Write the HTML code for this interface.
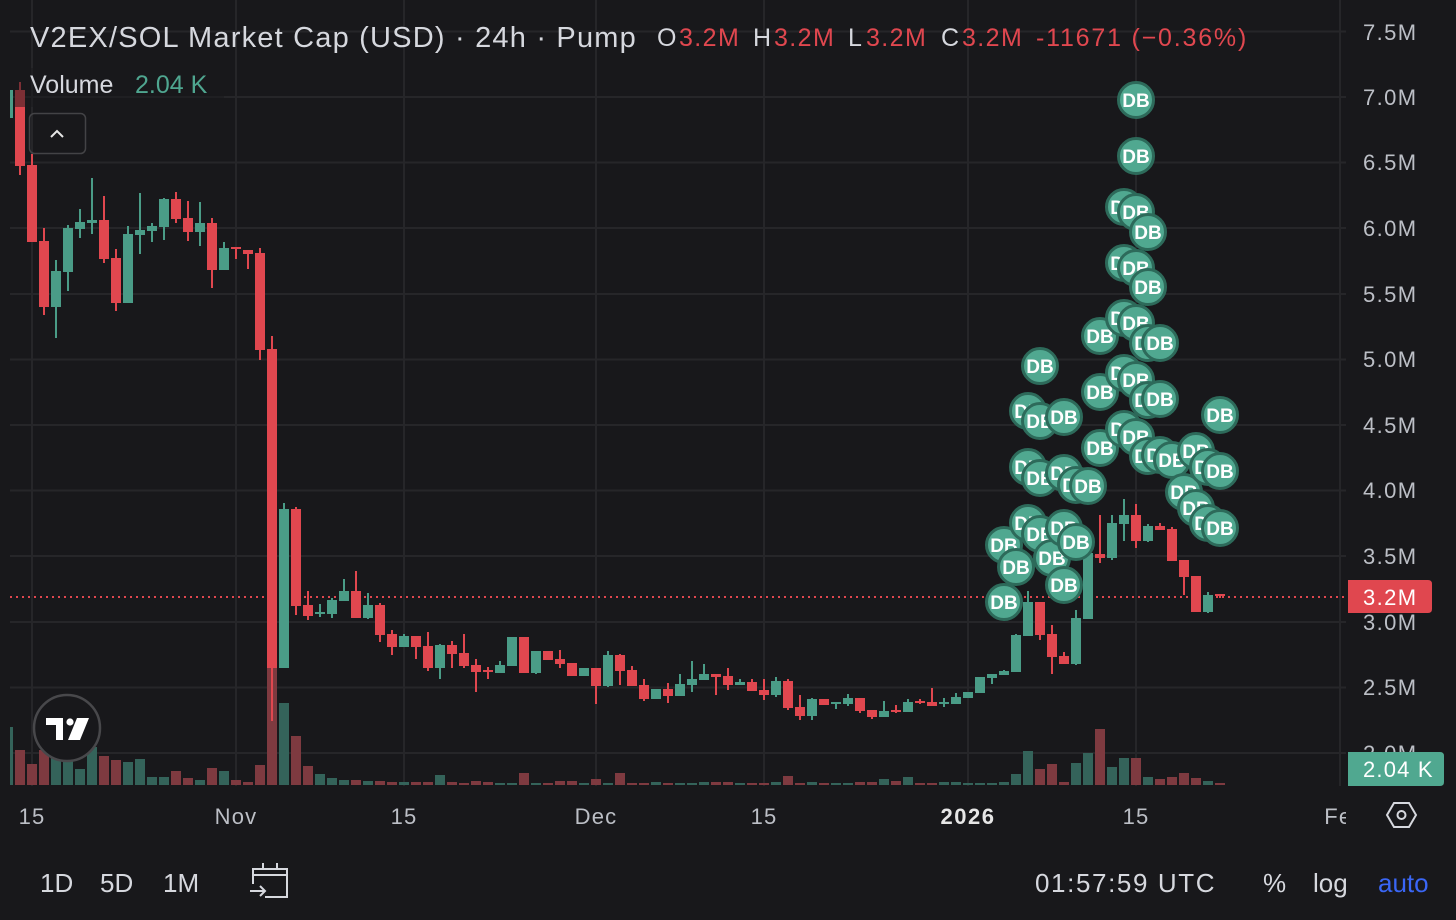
<!DOCTYPE html>
<html><head><meta charset="utf-8"><style>
html,body{margin:0;padding:0;background:#18181b;}
svg{display:block;font-family:"Liberation Sans",sans-serif;}
</style></head><body>
<svg width="1456" height="920" viewBox="0 0 1456 920" xmlns="http://www.w3.org/2000/svg">
<defs>
<clipPath id="pane"><rect x="10" y="0" width="1336" height="786"/></clipPath>
<clipPath id="taxis"><rect x="0" y="786" width="1346" height="60"/></clipPath>
</defs>
<rect width="1456" height="920" fill="#18181b"/>
<!-- grid -->
<g fill="#262629">
<rect x="10" y="30.5" width="1336" height="2"/>
<rect x="10" y="96" width="1336" height="2"/>
<rect x="10" y="161.5" width="1336" height="2"/>
<rect x="10" y="227" width="1336" height="2"/>
<rect x="10" y="293" width="1336" height="2"/>
<rect x="10" y="358.5" width="1336" height="2"/>
<rect x="10" y="424" width="1336" height="2"/>
<rect x="10" y="489.5" width="1336" height="2"/>
<rect x="10" y="555" width="1336" height="2"/>
<rect x="10" y="621" width="1336" height="2"/>
<rect x="10" y="686.5" width="1336" height="2"/>
<rect x="10" y="752" width="1336" height="2"/>
<rect x="31" y="0" width="2" height="786"/>
<rect x="235" y="0" width="2" height="786"/>
<rect x="403" y="0" width="2" height="786"/>
<rect x="595" y="0" width="2" height="786"/>
<rect x="763" y="0" width="2" height="786"/>
<rect x="967" y="0" width="2" height="786"/>
<rect x="1135" y="0" width="2" height="786"/>
<rect x="1339" y="0" width="2" height="786"/>
</g>
<g clip-path="url(#pane)">
<!-- volume green -->
<g fill="#34635a">
<rect x="3" y="727" width="10" height="58"/><rect x="51" y="742" width="10" height="43"/><rect x="63" y="745" width="10" height="40"/><rect x="75" y="769" width="10" height="16"/><rect x="87" y="747" width="10" height="38"/><rect x="123" y="762" width="10" height="23"/><rect x="135" y="759" width="10" height="26"/><rect x="147" y="777" width="10" height="8"/><rect x="159" y="777" width="10" height="8"/><rect x="195" y="780" width="10" height="5"/><rect x="219" y="771" width="10" height="14"/><rect x="279" y="703" width="10" height="82"/><rect x="315" y="774" width="10" height="11"/><rect x="327" y="778" width="10" height="7"/><rect x="339" y="780" width="10" height="5"/><rect x="363" y="781" width="10" height="4"/><rect x="399" y="782" width="10" height="3"/><rect x="435" y="775" width="10" height="10"/><rect x="495" y="783" width="10" height="2"/><rect x="507" y="783" width="10" height="2"/><rect x="531" y="783" width="10" height="2"/><rect x="579" y="783" width="10" height="2"/><rect x="603" y="783" width="10" height="2"/><rect x="651" y="782" width="10" height="3"/><rect x="675" y="783" width="10" height="2"/><rect x="687" y="783" width="10" height="2"/><rect x="699" y="782" width="10" height="3"/><rect x="735" y="783" width="10" height="2"/><rect x="771" y="782" width="10" height="3"/><rect x="807" y="782" width="10" height="3"/><rect x="831" y="783" width="10" height="2"/><rect x="843" y="783" width="10" height="2"/><rect x="879" y="779" width="10" height="6"/><rect x="903" y="777" width="10" height="8"/><rect x="939" y="782" width="10" height="3"/><rect x="951" y="782" width="10" height="3"/><rect x="963" y="783" width="10" height="2"/><rect x="975" y="783" width="10" height="2"/><rect x="987" y="783" width="10" height="2"/><rect x="999" y="782" width="10" height="3"/><rect x="1011" y="774" width="10" height="11"/><rect x="1023" y="751" width="10" height="34"/><rect x="1071" y="763" width="10" height="22"/><rect x="1083" y="753" width="10" height="32"/><rect x="1107" y="767" width="10" height="18"/><rect x="1119" y="758" width="10" height="27"/><rect x="1143" y="777" width="10" height="8"/><rect x="1203" y="781" width="10" height="4"/>
</g>
<!-- volume red -->
<g fill="#7e3a40">
<rect x="15" y="750" width="10" height="35"/><rect x="27" y="764" width="10" height="21"/><rect x="39" y="750" width="10" height="35"/><rect x="99" y="756" width="10" height="29"/><rect x="111" y="760" width="10" height="25"/><rect x="171" y="771" width="10" height="14"/><rect x="183" y="778" width="10" height="7"/><rect x="207" y="768" width="10" height="17"/><rect x="231" y="780" width="10" height="5"/><rect x="243" y="782" width="10" height="3"/><rect x="255" y="765" width="10" height="20"/><rect x="267" y="668" width="10" height="117"/><rect x="291" y="736" width="10" height="49"/><rect x="303" y="766" width="10" height="19"/><rect x="351" y="780" width="10" height="5"/><rect x="375" y="781" width="10" height="4"/><rect x="387" y="782" width="10" height="3"/><rect x="411" y="782" width="10" height="3"/><rect x="423" y="782" width="10" height="3"/><rect x="447" y="782" width="10" height="3"/><rect x="459" y="783" width="10" height="2"/><rect x="471" y="781" width="10" height="4"/><rect x="483" y="782" width="10" height="3"/><rect x="519" y="773" width="10" height="12"/><rect x="543" y="783" width="10" height="2"/><rect x="555" y="781" width="10" height="4"/><rect x="567" y="781" width="10" height="4"/><rect x="591" y="779" width="10" height="6"/><rect x="615" y="773" width="10" height="12"/><rect x="627" y="783" width="10" height="2"/><rect x="639" y="783" width="10" height="2"/><rect x="663" y="783" width="10" height="2"/><rect x="711" y="782" width="10" height="3"/><rect x="723" y="782" width="10" height="3"/><rect x="747" y="783" width="10" height="2"/><rect x="759" y="783" width="10" height="2"/><rect x="783" y="776" width="10" height="9"/><rect x="795" y="783" width="10" height="2"/><rect x="819" y="783" width="10" height="2"/><rect x="855" y="782" width="10" height="3"/><rect x="867" y="782" width="10" height="3"/><rect x="891" y="781" width="10" height="4"/><rect x="915" y="783" width="10" height="2"/><rect x="927" y="783" width="10" height="2"/><rect x="1035" y="769" width="10" height="16"/><rect x="1047" y="764" width="10" height="21"/><rect x="1059" y="782" width="10" height="3"/><rect x="1095" y="729" width="10" height="56"/><rect x="1131" y="758" width="10" height="27"/><rect x="1155" y="779" width="10" height="6"/><rect x="1167" y="777" width="10" height="8"/><rect x="1179" y="773" width="10" height="12"/><rect x="1191" y="778" width="10" height="7"/><rect x="1215" y="783" width="10" height="2"/>
</g>
<!-- price line -->
<line x1="10" y1="597" x2="1346" y2="597" stroke="#e0474f" stroke-width="2" stroke-dasharray="2 4"/>
<!-- green candles -->
<g fill="#4a9c87">
<rect x="3" y="90" width="10" height="28"/>
<rect x="51" y="271" width="10" height="36"/><rect x="55" y="260" width="2" height="78"/>
<rect x="63" y="228" width="10" height="44"/><rect x="67" y="225" width="2" height="66"/>
<rect x="75" y="222" width="10" height="7"/><rect x="79" y="209" width="2" height="29"/>
<rect x="87" y="220" width="10" height="3"/><rect x="91" y="178" width="2" height="56"/>
<rect x="123" y="234" width="10" height="69"/><rect x="127" y="226" width="2" height="77"/>
<rect x="135" y="230" width="10" height="5"/><rect x="139" y="193" width="2" height="61"/>
<rect x="147" y="226" width="10" height="5"/><rect x="151" y="223" width="2" height="19"/>
<rect x="159" y="199" width="10" height="28"/><rect x="163" y="198" width="2" height="42"/>
<rect x="195" y="223" width="10" height="9"/><rect x="199" y="202" width="2" height="44"/>
<rect x="219" y="248" width="10" height="22"/><rect x="223" y="242" width="2" height="28"/>
<rect x="279" y="509" width="10" height="159"/><rect x="283" y="503" width="2" height="165"/>
<rect x="315" y="612" width="10" height="2"/><rect x="319" y="604" width="2" height="13"/>
<rect x="327" y="600" width="10" height="14"/><rect x="331" y="598" width="2" height="20"/>
<rect x="339" y="591" width="10" height="10"/><rect x="343" y="579" width="2" height="22"/>
<rect x="363" y="605" width="10" height="13"/><rect x="367" y="593" width="2" height="26"/>
<rect x="399" y="636" width="10" height="11"/><rect x="403" y="634" width="2" height="13"/>
<rect x="435" y="645" width="10" height="23"/><rect x="439" y="644" width="2" height="35"/>
<rect x="495" y="665" width="10" height="8"/><rect x="499" y="661" width="2" height="12"/>
<rect x="507" y="637" width="10" height="29"/>
<rect x="531" y="651" width="10" height="22"/><rect x="535" y="651" width="2" height="23"/>
<rect x="579" y="668" width="10" height="8"/>
<rect x="603" y="655" width="10" height="31"/><rect x="607" y="651" width="2" height="36"/>
<rect x="651" y="689" width="10" height="10"/>
<rect x="675" y="684" width="10" height="12"/><rect x="679" y="674" width="2" height="22"/>
<rect x="687" y="679" width="10" height="6"/><rect x="691" y="661" width="2" height="31"/>
<rect x="699" y="674" width="10" height="6"/><rect x="703" y="664" width="2" height="16"/>
<rect x="735" y="682" width="10" height="3"/><rect x="739" y="679" width="2" height="6"/>
<rect x="771" y="681" width="10" height="14"/><rect x="775" y="677" width="2" height="20"/>
<rect x="807" y="699" width="10" height="17"/><rect x="811" y="698" width="2" height="22"/>
<rect x="831" y="702" width="10" height="2"/><rect x="835" y="702" width="2" height="7"/>
<rect x="843" y="698" width="10" height="6"/><rect x="847" y="694" width="2" height="12"/>
<rect x="879" y="711" width="10" height="6"/><rect x="883" y="701" width="2" height="16"/>
<rect x="903" y="702" width="10" height="10"/><rect x="907" y="699" width="2" height="13"/>
<rect x="939" y="702" width="10" height="2"/><rect x="943" y="698" width="2" height="9"/>
<rect x="951" y="697" width="10" height="7"/><rect x="955" y="693" width="2" height="11"/>
<rect x="963" y="692" width="10" height="6"/>
<rect x="975" y="677" width="10" height="16"/>
<rect x="987" y="674" width="10" height="4"/><rect x="991" y="674" width="2" height="10"/>
<rect x="999" y="671" width="10" height="4"/><rect x="1003" y="670" width="2" height="5"/>
<rect x="1011" y="635" width="10" height="37"/><rect x="1015" y="634" width="2" height="38"/>
<rect x="1023" y="602" width="10" height="34"/><rect x="1027" y="591" width="2" height="45"/>
<rect x="1071" y="618" width="10" height="46"/><rect x="1075" y="610" width="2" height="55"/>
<rect x="1083" y="553" width="10" height="66"/>
<rect x="1107" y="523" width="10" height="35"/><rect x="1111" y="515" width="2" height="45"/>
<rect x="1119" y="515" width="10" height="9"/><rect x="1123" y="499" width="2" height="42"/>
<rect x="1143" y="526" width="10" height="15"/><rect x="1147" y="524" width="2" height="18"/>
<rect x="1203" y="595" width="10" height="17"/><rect x="1207" y="592" width="2" height="21"/>
</g>
<!-- red candles -->
<g fill="#e0474f">
<rect x="15" y="90" width="10" height="76"/><rect x="19" y="82" width="2" height="93"/>
<rect x="27" y="165" width="10" height="77"/><rect x="31" y="154" width="2" height="88"/>
<rect x="39" y="241" width="10" height="66"/><rect x="43" y="228" width="2" height="87"/>
<rect x="99" y="220" width="10" height="39"/><rect x="103" y="196" width="2" height="67"/>
<rect x="111" y="258" width="10" height="45"/><rect x="115" y="249" width="2" height="62"/>
<rect x="171" y="199" width="10" height="20"/><rect x="175" y="192" width="2" height="31"/>
<rect x="183" y="218" width="10" height="14"/><rect x="187" y="201" width="2" height="40"/>
<rect x="207" y="223" width="10" height="47"/><rect x="211" y="218" width="2" height="70"/>
<rect x="231" y="247" width="10" height="2"/><rect x="235" y="247" width="2" height="12"/>
<rect x="243" y="250" width="10" height="4"/><rect x="247" y="250" width="2" height="19"/>
<rect x="255" y="253" width="10" height="97"/><rect x="259" y="248" width="2" height="112"/>
<rect x="267" y="349" width="10" height="319"/><rect x="271" y="336" width="2" height="385"/>
<rect x="291" y="509" width="10" height="97"/><rect x="295" y="507" width="2" height="108"/>
<rect x="303" y="605" width="10" height="11"/><rect x="307" y="591" width="2" height="29"/>
<rect x="351" y="591" width="10" height="27"/><rect x="355" y="571" width="2" height="47"/>
<rect x="375" y="605" width="10" height="30"/><rect x="379" y="603" width="2" height="39"/>
<rect x="387" y="634" width="10" height="13"/><rect x="391" y="630" width="2" height="25"/>
<rect x="411" y="636" width="10" height="11"/><rect x="415" y="636" width="2" height="23"/>
<rect x="423" y="646" width="10" height="22"/><rect x="427" y="632" width="2" height="39"/>
<rect x="447" y="645" width="10" height="9"/><rect x="451" y="641" width="2" height="27"/>
<rect x="459" y="653" width="10" height="13"/><rect x="463" y="634" width="2" height="34"/>
<rect x="471" y="665" width="10" height="7"/><rect x="475" y="659" width="2" height="33"/>
<rect x="483" y="670" width="10" height="2"/><rect x="487" y="667" width="2" height="12"/>
<rect x="519" y="637" width="10" height="36"/>
<rect x="543" y="651" width="10" height="9"/>
<rect x="555" y="659" width="10" height="5"/><rect x="559" y="650" width="2" height="18"/>
<rect x="567" y="663" width="10" height="13"/>
<rect x="591" y="668" width="10" height="18"/><rect x="595" y="668" width="2" height="36"/>
<rect x="615" y="655" width="10" height="16"/><rect x="619" y="654" width="2" height="31"/>
<rect x="627" y="670" width="10" height="16"/><rect x="631" y="666" width="2" height="20"/>
<rect x="639" y="685" width="10" height="14"/><rect x="643" y="679" width="2" height="22"/>
<rect x="663" y="689" width="10" height="7"/><rect x="667" y="683" width="2" height="20"/>
<rect x="711" y="674" width="10" height="3"/><rect x="715" y="674" width="2" height="21"/>
<rect x="723" y="676" width="10" height="9"/><rect x="727" y="668" width="2" height="22"/>
<rect x="747" y="682" width="10" height="9"/><rect x="751" y="679" width="2" height="12"/>
<rect x="759" y="690" width="10" height="5"/><rect x="763" y="679" width="2" height="21"/>
<rect x="783" y="681" width="10" height="27"/><rect x="787" y="679" width="2" height="31"/>
<rect x="795" y="707" width="10" height="9"/><rect x="799" y="695" width="2" height="25"/>
<rect x="819" y="699" width="10" height="6"/>
<rect x="855" y="698" width="10" height="13"/><rect x="859" y="698" width="2" height="15"/>
<rect x="867" y="710" width="10" height="7"/><rect x="871" y="710" width="2" height="9"/>
<rect x="891" y="710" width="10" height="2"/><rect x="895" y="705" width="2" height="8"/>
<rect x="915" y="701" width="10" height="2"/><rect x="919" y="699" width="2" height="5"/>
<rect x="927" y="702" width="10" height="4"/><rect x="931" y="688" width="2" height="18"/>
<rect x="1035" y="602" width="10" height="33"/><rect x="1039" y="602" width="2" height="38"/>
<rect x="1047" y="634" width="10" height="23"/><rect x="1051" y="625" width="2" height="49"/>
<rect x="1059" y="656" width="10" height="8"/><rect x="1063" y="652" width="2" height="12"/>
<rect x="1095" y="554" width="10" height="4"/><rect x="1099" y="515" width="2" height="48"/>
<rect x="1131" y="515" width="10" height="26"/><rect x="1135" y="504" width="2" height="44"/>
<rect x="1155" y="526" width="10" height="4"/><rect x="1159" y="523" width="2" height="7"/>
<rect x="1167" y="529" width="10" height="32"/><rect x="1171" y="527" width="2" height="34"/>
<rect x="1179" y="560" width="10" height="17"/><rect x="1183" y="560" width="2" height="35"/>
<rect x="1191" y="576" width="10" height="36"/>
<rect x="1215" y="594" width="10" height="2"/><rect x="1219" y="594" width="2" height="4"/>
</g>
<!-- DB bubbles -->
<g font-family="Liberation Sans, sans-serif" font-weight="bold" font-size="19" fill="#ffffff" text-anchor="middle">
<g><circle cx="1004" cy="545" r="17.5" fill="#50a890" stroke="#2d6a5a" stroke-width="3"/><text x="1004" y="552">DB</text></g>
<g><circle cx="1004" cy="602" r="17.5" fill="#50a890" stroke="#2d6a5a" stroke-width="3"/><text x="1004" y="609">DB</text></g>
<g><circle cx="1016" cy="567" r="17.5" fill="#50a890" stroke="#2d6a5a" stroke-width="3"/><text x="1016" y="574">DB</text></g>
<g><circle cx="1028" cy="411" r="17.5" fill="#50a890" stroke="#2d6a5a" stroke-width="3"/><text x="1028" y="418">DB</text></g>
<g><circle cx="1028" cy="467" r="17.5" fill="#50a890" stroke="#2d6a5a" stroke-width="3"/><text x="1028" y="474">DB</text></g>
<g><circle cx="1028" cy="523" r="17.5" fill="#50a890" stroke="#2d6a5a" stroke-width="3"/><text x="1028" y="530">DB</text></g>
<g><circle cx="1040" cy="366" r="17.5" fill="#50a890" stroke="#2d6a5a" stroke-width="3"/><text x="1040" y="373">DB</text></g>
<g><circle cx="1040" cy="421" r="17.5" fill="#50a890" stroke="#2d6a5a" stroke-width="3"/><text x="1040" y="428">DB</text></g>
<g><circle cx="1040" cy="478" r="17.5" fill="#50a890" stroke="#2d6a5a" stroke-width="3"/><text x="1040" y="485">DB</text></g>
<g><circle cx="1040" cy="534" r="17.5" fill="#50a890" stroke="#2d6a5a" stroke-width="3"/><text x="1040" y="541">DB</text></g>
<g><circle cx="1052" cy="558" r="17.5" fill="#50a890" stroke="#2d6a5a" stroke-width="3"/><text x="1052" y="565">DB</text></g>
<g><circle cx="1064" cy="417" r="17.5" fill="#50a890" stroke="#2d6a5a" stroke-width="3"/><text x="1064" y="424">DB</text></g>
<g><circle cx="1064" cy="473" r="17.5" fill="#50a890" stroke="#2d6a5a" stroke-width="3"/><text x="1064" y="480">DB</text></g>
<g><circle cx="1064" cy="528" r="17.5" fill="#50a890" stroke="#2d6a5a" stroke-width="3"/><text x="1064" y="535">DB</text></g>
<g><circle cx="1064" cy="585" r="17.5" fill="#50a890" stroke="#2d6a5a" stroke-width="3"/><text x="1064" y="592">DB</text></g>
<g><circle cx="1076" cy="485" r="17.5" fill="#50a890" stroke="#2d6a5a" stroke-width="3"/><text x="1076" y="492">DB</text></g>
<g><circle cx="1076" cy="542" r="17.5" fill="#50a890" stroke="#2d6a5a" stroke-width="3"/><text x="1076" y="549">DB</text></g>
<g><circle cx="1088" cy="486" r="17.5" fill="#50a890" stroke="#2d6a5a" stroke-width="3"/><text x="1088" y="493">DB</text></g>
<g><circle cx="1100" cy="336" r="17.5" fill="#50a890" stroke="#2d6a5a" stroke-width="3"/><text x="1100" y="343">DB</text></g>
<g><circle cx="1100" cy="392" r="17.5" fill="#50a890" stroke="#2d6a5a" stroke-width="3"/><text x="1100" y="399">DB</text></g>
<g><circle cx="1100" cy="448" r="17.5" fill="#50a890" stroke="#2d6a5a" stroke-width="3"/><text x="1100" y="455">DB</text></g>
<g><circle cx="1124" cy="207" r="17.5" fill="#50a890" stroke="#2d6a5a" stroke-width="3"/><text x="1124" y="214">DB</text></g>
<g><circle cx="1124" cy="263" r="17.5" fill="#50a890" stroke="#2d6a5a" stroke-width="3"/><text x="1124" y="270">DB</text></g>
<g><circle cx="1124" cy="318" r="17.5" fill="#50a890" stroke="#2d6a5a" stroke-width="3"/><text x="1124" y="325">DB</text></g>
<g><circle cx="1124" cy="373" r="17.5" fill="#50a890" stroke="#2d6a5a" stroke-width="3"/><text x="1124" y="380">DB</text></g>
<g><circle cx="1124" cy="429" r="17.5" fill="#50a890" stroke="#2d6a5a" stroke-width="3"/><text x="1124" y="436">DB</text></g>
<g><circle cx="1136" cy="100" r="17.5" fill="#50a890" stroke="#2d6a5a" stroke-width="3"/><text x="1136" y="107">DB</text></g>
<g><circle cx="1136" cy="156" r="17.5" fill="#50a890" stroke="#2d6a5a" stroke-width="3"/><text x="1136" y="163">DB</text></g>
<g><circle cx="1136" cy="212" r="17.5" fill="#50a890" stroke="#2d6a5a" stroke-width="3"/><text x="1136" y="219">DB</text></g>
<g><circle cx="1136" cy="268" r="17.5" fill="#50a890" stroke="#2d6a5a" stroke-width="3"/><text x="1136" y="275">DB</text></g>
<g><circle cx="1136" cy="323" r="17.5" fill="#50a890" stroke="#2d6a5a" stroke-width="3"/><text x="1136" y="330">DB</text></g>
<g><circle cx="1136" cy="380" r="17.5" fill="#50a890" stroke="#2d6a5a" stroke-width="3"/><text x="1136" y="387">DB</text></g>
<g><circle cx="1136" cy="437" r="17.5" fill="#50a890" stroke="#2d6a5a" stroke-width="3"/><text x="1136" y="444">DB</text></g>
<g><circle cx="1148" cy="232" r="17.5" fill="#50a890" stroke="#2d6a5a" stroke-width="3"/><text x="1148" y="239">DB</text></g>
<g><circle cx="1148" cy="287" r="17.5" fill="#50a890" stroke="#2d6a5a" stroke-width="3"/><text x="1148" y="294">DB</text></g>
<g><circle cx="1148" cy="343" r="17.5" fill="#50a890" stroke="#2d6a5a" stroke-width="3"/><text x="1148" y="350">DB</text></g>
<g><circle cx="1148" cy="400" r="17.5" fill="#50a890" stroke="#2d6a5a" stroke-width="3"/><text x="1148" y="407">DB</text></g>
<g><circle cx="1148" cy="456" r="17.5" fill="#50a890" stroke="#2d6a5a" stroke-width="3"/><text x="1148" y="463">DB</text></g>
<g><circle cx="1160" cy="343" r="17.5" fill="#50a890" stroke="#2d6a5a" stroke-width="3"/><text x="1160" y="350">DB</text></g>
<g><circle cx="1160" cy="399" r="17.5" fill="#50a890" stroke="#2d6a5a" stroke-width="3"/><text x="1160" y="406">DB</text></g>
<g><circle cx="1160" cy="455" r="17.5" fill="#50a890" stroke="#2d6a5a" stroke-width="3"/><text x="1160" y="462">DB</text></g>
<g><circle cx="1172" cy="460" r="17.5" fill="#50a890" stroke="#2d6a5a" stroke-width="3"/><text x="1172" y="467">DB</text></g>
<g><circle cx="1184" cy="492" r="17.5" fill="#50a890" stroke="#2d6a5a" stroke-width="3"/><text x="1184" y="499">DB</text></g>
<g><circle cx="1196" cy="451" r="17.5" fill="#50a890" stroke="#2d6a5a" stroke-width="3"/><text x="1196" y="458">DB</text></g>
<g><circle cx="1196" cy="508" r="17.5" fill="#50a890" stroke="#2d6a5a" stroke-width="3"/><text x="1196" y="515">DB</text></g>
<g><circle cx="1208" cy="467" r="17.5" fill="#50a890" stroke="#2d6a5a" stroke-width="3"/><text x="1208" y="474">DB</text></g>
<g><circle cx="1208" cy="523" r="17.5" fill="#50a890" stroke="#2d6a5a" stroke-width="3"/><text x="1208" y="530">DB</text></g>
<g><circle cx="1220" cy="415" r="17.5" fill="#50a890" stroke="#2d6a5a" stroke-width="3"/><text x="1220" y="422">DB</text></g>
<g><circle cx="1220" cy="471" r="17.5" fill="#50a890" stroke="#2d6a5a" stroke-width="3"/><text x="1220" y="478">DB</text></g>
<g><circle cx="1220" cy="528" r="17.5" fill="#50a890" stroke="#2d6a5a" stroke-width="3"/><text x="1220" y="535">DB</text></g>
</g>
</g>
<!-- volume legend backing -->
<rect x="14" y="68" width="210" height="39" fill="#18181b" fill-opacity="0.5"/>
<!-- header legend -->
<text x="30" y="47" font-size="29" fill="#d6d8de" style="letter-spacing:1.2px">V2EX/SOL Market Cap (USD) · 24h · Pump</text>
<g font-size="25" style="letter-spacing:1.4px">
<text x="657" y="46" fill="#d6d8de">O</text><text x="679" y="46" fill="#e0474f">3.2M</text>
<text x="753" y="46" fill="#d6d8de">H</text><text x="774" y="46" fill="#e0474f">3.2M</text>
<text x="848" y="46" fill="#d6d8de">L</text><text x="866" y="46" fill="#e0474f">3.2M</text>
<text x="941" y="46" fill="#d6d8de">C</text><text x="962" y="46" fill="#e0474f">3.2M</text>
<text x="1036" y="46" fill="#e0474f" style="letter-spacing:1.8px">-11671 (−0.36%)</text>
</g>
<text x="30" y="93" font-size="25" fill="#d6d8de">Volume</text>
<text x="135" y="93" font-size="25" fill="#4fa690">2.04 K</text>
<!-- collapse button -->
<rect x="29.5" y="113.5" width="56" height="40" rx="5" fill="none" stroke="#434346" stroke-width="1.5"/>
<polyline points="51,137 57,131 63,137" fill="none" stroke="#e6e6e6" stroke-width="2"/>
<!-- TV logo -->
<circle cx="67" cy="728" r="33" fill="#18181b" stroke="#48484b" stroke-width="2.5"/>
<g fill="#ffffff">
<rect x="46" y="718" width="17" height="7"/><rect x="56" y="718" width="7" height="22"/>
<circle cx="70" cy="722" r="3.6"/>
<polygon points="77,718 89,718 80,740 68,740"/>
</g>
<!-- price axis -->
<g font-size="22" fill="#bcbfc6" style="letter-spacing:1.4px">
<text x="1363" y="40">7.5M</text>
<text x="1363" y="105">7.0M</text>
<text x="1363" y="170">6.5M</text>
<text x="1363" y="236">6.0M</text>
<text x="1363" y="302">5.5M</text>
<text x="1363" y="367">5.0M</text>
<text x="1363" y="433">4.5M</text>
<text x="1363" y="498">4.0M</text>
<text x="1363" y="564">3.5M</text>
<text x="1363" y="630">3.0M</text>
<text x="1363" y="695">2.5M</text>
<text x="1363" y="761">2.0M</text>
</g>
<path d="M1348 580 H1428 Q1432 580 1432 584 V609 Q1432 613 1428 613 H1348 Z" fill="#e0474f"/>
<text x="1363" y="605" font-size="22" fill="#ffffff" style="letter-spacing:1.4px">3.2M</text>
<path d="M1348 752 H1440 Q1444 752 1444 756 V782 Q1444 786 1440 786 H1348 Z" fill="#50a890"/>
<text x="1363" y="777" font-size="22" fill="#ffffff" style="letter-spacing:1.2px">2.04 K</text>
<!-- time axis -->
<g font-size="22" fill="#bcbfc6" text-anchor="middle" style="letter-spacing:1.2px" clip-path="url(#taxis)">
<text x="32" y="824">15</text>
<text x="236" y="824">Nov</text>
<text x="404" y="824">15</text>
<text x="596" y="824">Dec</text>
<text x="764" y="824">15</text>
<text x="968" y="824" font-weight="bold" fill="#e6e6e6" style="letter-spacing:1.5px">2026</text>
<text x="1136" y="824">15</text>
<text x="1345" y="824">Feb</text>
</g>
<!-- settings hexagon -->
<polygon points="1387,815 1394,803 1409,803 1416,815 1409,827 1394,827" fill="none" stroke="#d6d8de" stroke-width="2"/>
<circle cx="1401.5" cy="815" r="4" fill="none" stroke="#d6d8de" stroke-width="2"/>
<!-- bottom toolbar -->
<g font-size="26" fill="#d6d8de">
<text x="40" y="892">1D</text>
<text x="100" y="892">5D</text>
<text x="163" y="892">1M</text>
<text x="1035" y="892" style="letter-spacing:1.6px">01:57:59 UTC</text>
<text x="1263" y="892">%</text>
<text x="1313" y="892">log</text>
<text x="1378" y="892" fill="#3a66f5">auto</text>
</g>
<g fill="none" stroke="#d6d8de" stroke-width="2">
<path d="M253 884 V869 H287 V897 H265"/>
<line x1="253" y1="875" x2="287" y2="875"/>
<line x1="263" y1="863" x2="263" y2="870"/>
<line x1="277" y1="863" x2="277" y2="870"/>
<path d="M250 891 H265 M260 886 L265 891 L260 896"/>
</g>
</svg>
</body></html>
